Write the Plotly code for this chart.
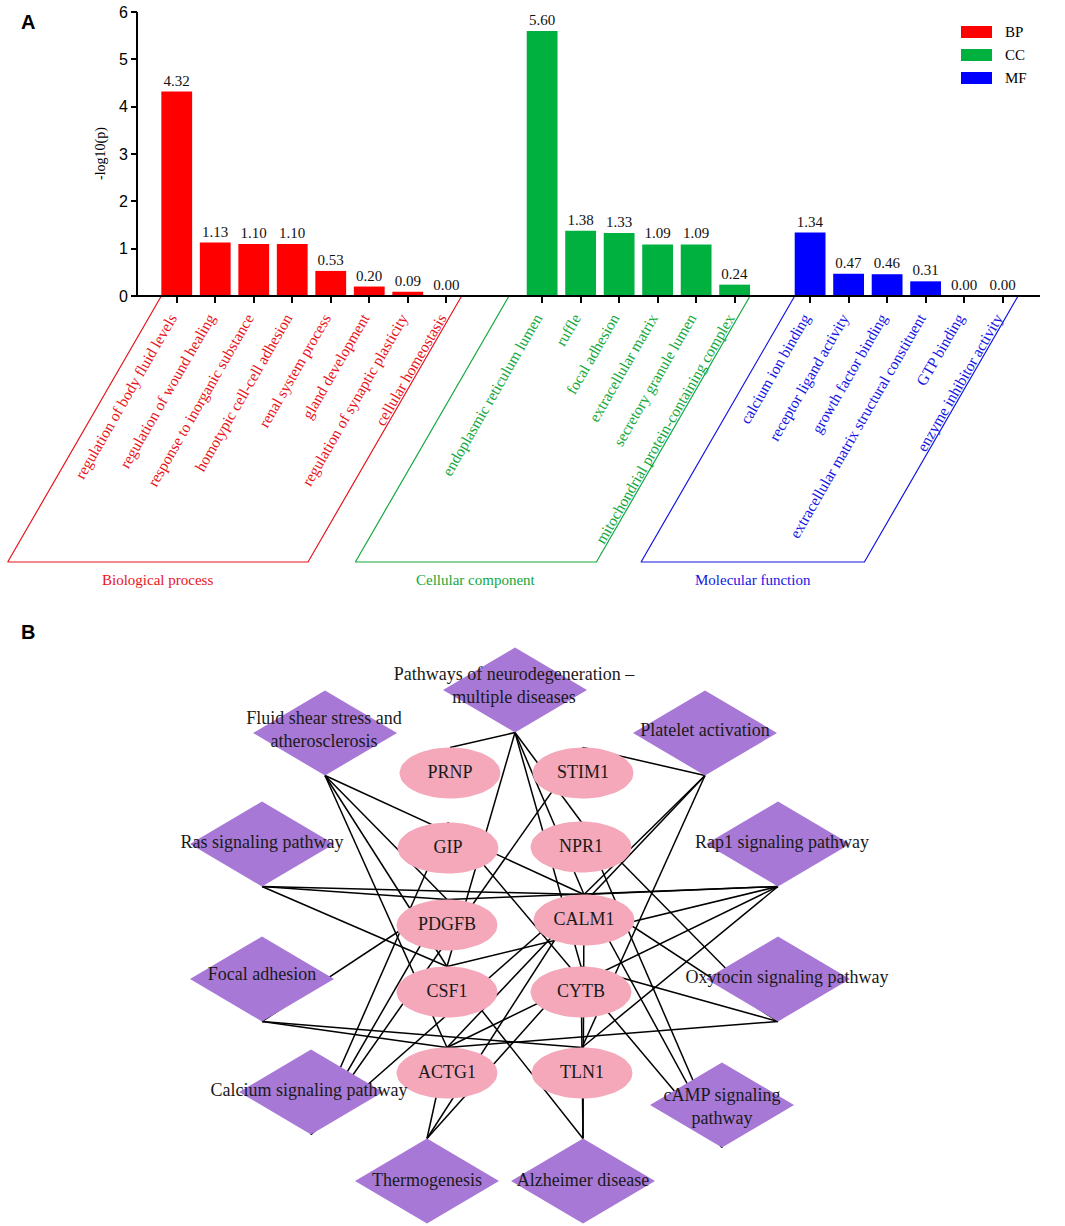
import numpy as np
import plotly.graph_objects as go

# ---------------- Panel A data ----------------
bp_terms = ["regulation of body fluid levels", "regulation of wound healing",
            "response to inorganic substance", "homotypic cell-cell adhesion",
            "renal system process", "gland development",
            "regulation of synaptic plasticity", "cellular homeostasis"]
bp_vals = [4.32, 1.13, 1.10, 1.10, 0.53, 0.20, 0.09, 0.00]

cc_terms = ["endoplasmic reticulum lumen", "ruffle", "focal adhesion",
            "extracellular matrix", "secretory granule lumen",
            "mitochondrial protein-containing complex"]
cc_vals = [5.60, 1.38, 1.33, 1.09, 1.09, 0.24]

mf_terms = ["calcium ion binding", "receptor ligand activity", "growth factor binding",
            "extracellular matrix structural constituent", "GTP binding",
            "enzyme inhibitor activity"]
mf_vals = [1.34, 0.47, 0.46, 0.31, 0.00, 0.00]

group_short = ["BP", "CC", "MF"]
group_names = ["Biological process", "Cellular component", "Molecular function"]
y_ticks = [0, 1, 2, 3, 4, 5, 6]

# ---------------- Panel B data ----------------
pw_keys = ["neuro", "fluid", "platelet", "ras", "rap1", "focal", "oxy",
           "calcium", "camp", "thermo", "alz"]
pw_labels = ["Pathways of neurodegeneration \u2013<br>multiple diseases",
             "Fluid shear stress and<br>atherosclerosis",
             "Platelet activation", "Ras signaling pathway", "Rap1 signaling pathway",
             "Focal adhesion", "Oxytocin signaling pathway",
             "Calcium signaling pathway", "cAMP signaling<br>pathway",
             "Thermogenesis", "Alzheimer disease"]
pw_x = [515, 325, 705, 262, 778, 262, 778, 311, 722, 427, 583]
pw_y = [690, 733, 733, 844, 844, 979, 979, 1092, 1105, 1181, 1181]
pw_label_x = [514, 324, 705, 262, 782, 262, 787, 309, 722, 427, 583]
pw_label_y = [687, 731, 731, 843, 843, 975, 978, 1091, 1108, 1181, 1181]
pw_anchor = ["bottom", "bottom", "bottom", "bottom", "bottom", "bottom",
             "bottom", "bottom", "bottom", "top", "top"]

gene_names = ["PRNP", "STIM1", "GIP", "NPR1", "PDGFB", "CALM1", "CSF1", "CYTB", "ACTG1", "TLN1"]
gene_x = [450, 583, 448, 581, 447, 584, 447, 581, 447, 582]
gene_y = [773, 773, 848, 847, 925, 920, 992, 992, 1073, 1073]

edges = {
    "neuro": ["PRNP", "CSF1", "CALM1", "CYTB", "NPR1"],
    "fluid": ["CALM1", "PDGFB", "ACTG1", "CSF1"],
    "platelet": ["STIM1", "CALM1", "ACTG1", "TLN1"],
    "ras": ["PDGFB", "CALM1", "CSF1"],
    "rap1": ["PDGFB", "CALM1", "CSF1", "ACTG1", "TLN1"],
    "focal": ["PDGFB", "ACTG1", "TLN1"],
    "oxy": ["CALM1", "NPR1", "ACTG1", "CYTB"],
    "calcium": ["CALM1", "STIM1", "PDGFB", "GIP"],
    "camp": ["GIP", "NPR1", "CALM1"],
    "thermo": ["ACTG1", "CYTB", "CALM1"],
    "alz": ["CALM1", "CYTB", "CSF1"],
}

# ---------------- style ----------------
W, H = 1065, 1226
bar_colors = ["#FF0000", "#00B140", "#0000FF"]
text_colors = ["#E8141B", "#14A83C", "#1414E6"]
group_start = [0.0, 9.49, 16.45]
group_left_pad = [-0.4, -0.86, -0.4]
shear = 3.99          # horizontal offset of the slanted frame sides (axis units)
frame_bottom = -5.62
SERIF = "Liberation Serif"
SANS = "Liberation Sans"

fig = go.Figure()

groups = [(bp_terms, bp_vals), (cc_terms, cc_vals), (mf_terms, mf_vals)]
all_x, all_text = [], []
for gi, (terms, vals) in enumerate(groups):
    xs = [group_start[gi] + i for i in range(len(terms))]
    all_x += xs
    all_text += [f'<span style="color:{text_colors[gi]}">{t}</span>' for t in terms]
    fig.add_trace(go.Bar(
        x=xs, y=vals, width=0.8, name=group_short[gi],
        marker=dict(color=bar_colors[gi], line=dict(width=0)),
        text=[f"{v:.2f}" for v in vals], textposition="outside",
        textfont=dict(family=SERIF, size=15, color="#111"),
        cliponaxis=False, showlegend=False, xaxis="x", yaxis="y"))
    # slanted frame below the axis
    xl = xs[0] + group_left_pad[gi]
    xr = xs[-1] + 0.4
    fig.add_trace(go.Scatter(
        x=[xl, xl - shear, xr - shear, xr], y=[0, frame_bottom, frame_bottom, 0],
        mode="lines", line=dict(color=text_colors[gi], width=1.2),
        hoverinfo="skip", showlegend=False, xaxis="x", yaxis="y"))
    fig.add_annotation(x=(xl + xr) / 2 - shear, y=-6.0, xref="x", yref="y",
                       text=group_names[gi], showarrow=False,
                       font=dict(family=SERIF, size=15, color=text_colors[gi]))

# ---------------- Panel B ----------------
pw_idx = {k: i for i, k in enumerate(pw_keys)}
g_idx = {g: i for i, g in enumerate(gene_names)}
DH_W, DH_H = 72, 42.5
EL_A, EL_B = 50.5, 25.5

ex, ey = [], []
for p, genes in edges.items():
    i = pw_idx[p]
    py = pw_y[i] + (DH_H if pw_anchor[i] == "bottom" else -DH_H)
    for g in genes:
        j = g_idx[g]
        ex += [pw_x[i], gene_x[j], None]
        ey += [py, gene_y[j] - EL_B, None]
fig.add_trace(go.Scatter(x=ex, y=ey, mode="lines", line=dict(color="#000", width=1.5),
                         hoverinfo="skip", showlegend=False, xaxis="x2", yaxis="y2"))

dx, dy = [], []
for cx, cy in zip(pw_x, pw_y):
    dx += [cx - DH_W, cx, cx + DH_W, cx, cx - DH_W, None]
    dy += [cy, cy - DH_H, cy, cy + DH_H, cy, None]
fig.add_trace(go.Scatter(x=dx, y=dy, mode="lines", fill="toself", fillcolor="#A878D6",
                         line=dict(width=0, color="#A878D6"), hoverinfo="skip",
                         showlegend=False, xaxis="x2", yaxis="y2"))

t = np.linspace(0, 2 * np.pi, 60)
elx, ely = [], []
for cx, cy in zip(gene_x, gene_y):
    elx += list(cx + EL_A * np.cos(t)) + [None]
    ely += list(cy + EL_B * np.sin(t)) + [None]
fig.add_trace(go.Scatter(x=elx, y=ely, mode="lines", fill="toself", fillcolor="#F4A8BA",
                         line=dict(width=0, color="#F4A8BA"), hoverinfo="skip",
                         showlegend=False, xaxis="x2", yaxis="y2"))

fig.add_trace(go.Scatter(x=pw_label_x, y=pw_label_y, text=pw_labels, mode="text",
                         textfont=dict(family=SERIF, size=18, color="#1a1a1a"),
                         hoverinfo="skip", showlegend=False, xaxis="x2", yaxis="y2"))
fig.add_trace(go.Scatter(x=gene_x, y=gene_y, text=gene_names, mode="text",
                         textfont=dict(family=SERIF, size=18, color="#1a1a1a"),
                         hoverinfo="skip", showlegend=False, xaxis="x2", yaxis="y2"))

# ---------------- axes ----------------
y0_px, y6_px, ybot_px = 296, 12, 600
ppu = (y0_px - y6_px) / 6
fig.update_layout(
    width=W, height=H, margin=dict(l=0, r=0, t=0, b=0, autoexpand=False),
    paper_bgcolor="white", plot_bgcolor="rgba(0,0,0,0)",
    xaxis=dict(domain=[0, 1], range=[-4.59, 23.07], anchor="free", automargin=False,
               position=1 - y0_px / H, tickvals=all_x, ticktext=all_text,
               tickangle=-60, ticks="outside", ticklen=6, tickwidth=1.5,
               ticklabelshift=-6,
               tickcolor="#000", showline=False, showgrid=False, zeroline=False,
               tickfont=dict(family=SERIF, size=15.5)),
    yaxis=dict(domain=[1 - ybot_px / H, 1 - y6_px / H], automargin=False,
               range=[-(ybot_px - y0_px) / ppu, 6], anchor="free", position=137 / W,
               tickvals=y_ticks, ticks="outside", ticklen=6, tickwidth=1.5,
               tickcolor="#000", showline=False, showgrid=False, zeroline=False,
               tickfont=dict(family=SANS, size=16, color="#000")),
    xaxis2=dict(domain=[0, 1], range=[0, W], visible=False, anchor="y2", automargin=False),
    yaxis2=dict(domain=[0, 1 - 620 / H], range=[H, 620], visible=False, anchor="x2",
                automargin=False),
    bargap=0.2,
)

# axis lines
fig.add_shape(type="line", xref="paper", yref="y", x0=137 / W, x1=137 / W, y0=0, y1=6,
              line=dict(color="#000", width=2))
fig.add_shape(type="line", xref="paper", yref="y", x0=137 / W, x1=1040 / W, y0=0, y1=0,
              line=dict(color="#000", width=2))

fig.add_annotation(x=101 / W, y=3, xref="paper", yref="y", text="-log10(p)",
                   xanchor="center", yanchor="middle",
                   textangle=-90, showarrow=False, font=dict(family=SERIF, size=14, color="#000"))

# legend
for k, (lab, col) in enumerate(zip(group_short, bar_colors)):
    yc = 1 - (32 + 23 * k) / H
    fig.add_shape(type="rect", xref="paper", yref="paper", x0=961 / W, x1=992 / W,
                  y0=yc - 6 / H, y1=yc + 6 / H, fillcolor=col, line=dict(width=0))
    fig.add_annotation(x=1003 / W, y=yc, xref="paper", yref="paper", text=lab,
                       xanchor="left", yanchor="middle", showarrow=False,
                       font=dict(family=SERIF, size=15, color="#000"))

# panel letters
fig.add_annotation(x=28 / W, y=1 - 22 / H, xref="paper", yref="paper", text="<b>A</b>",
                   xanchor="center", yanchor="middle",
                   showarrow=False, font=dict(family=SANS, size=20, color="#000"))
fig.add_annotation(x=28 / W, y=1 - 632 / H, xref="paper", yref="paper", text="<b>B</b>",
                   xanchor="center", yanchor="middle",
                   showarrow=False, font=dict(family=SANS, size=20, color="#000"))

fig.write_html("out.html", config={"displayModeBar": False},
               post_script="document.body.style.margin='0px';")
